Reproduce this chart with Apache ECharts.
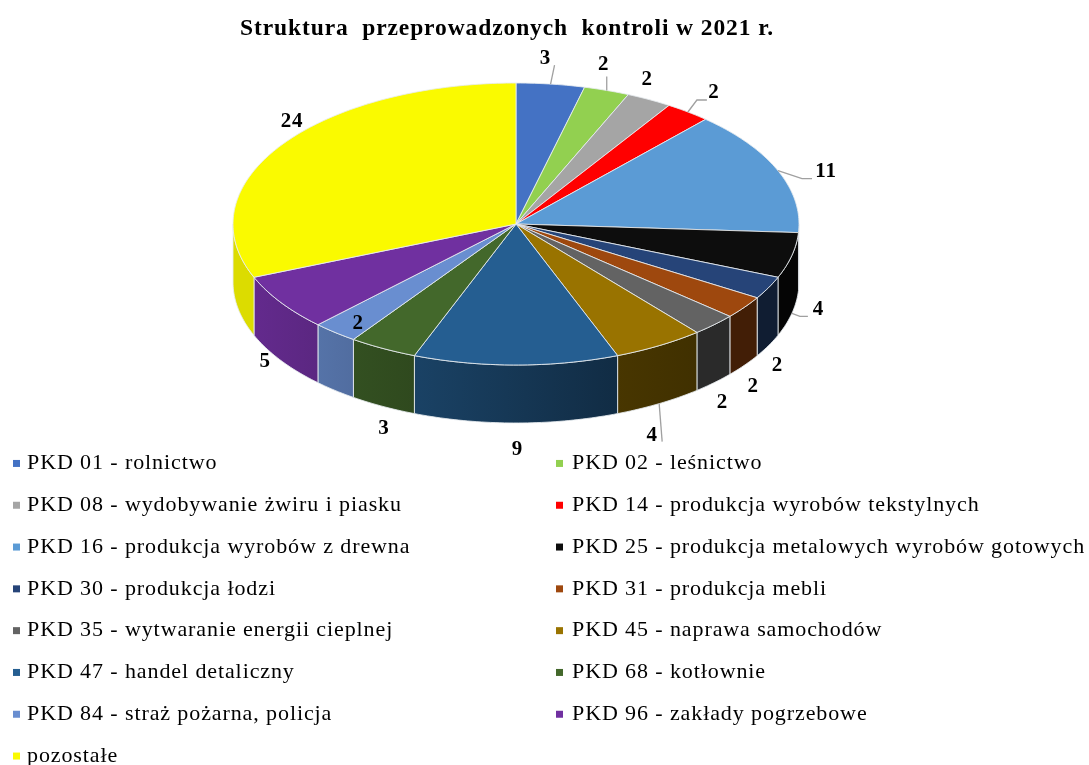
<!DOCTYPE html>
<html><head><meta charset="utf-8">
<style>html,body{margin:0;padding:0;background:#fff}#c{width:1089px;height:765px}</style>
<script src="https://cdn.jsdelivr.net/npm/echarts@6/dist/echarts.min.js"></script>
</head><body><div id="c"></div>
<script>
// The reference text is set with slightly open tracking
const nativeGetContext = HTMLCanvasElement.prototype.getContext;
HTMLCanvasElement.prototype.getContext = function(){
  const ctx = nativeGetContext.apply(this, arguments);
  if (ctx && 'letterSpacing' in ctx) ctx.letterSpacing = '0.9px';
  return ctx;
};
const titleText = 'Struktura  przeprowadzonych  kontroli w 2021 r.';
const categories = ['PKD 01 - rolnictwo','PKD 02 - leśnictwo','PKD 08 - wydobywanie żwiru i piasku','PKD 14 - produkcja wyrobów tekstylnych','PKD 16 - produkcja wyrobów z drewna','PKD 25 - produkcja metalowych wyrobów gotowych','PKD 30 - produkcja łodzi','PKD 31 - produkcja mebli','PKD 35 - wytwaranie energii cieplnej','PKD 45 - naprawa samochodów','PKD 47 - handel detaliczny','PKD 68 - kotłownie','PKD 84 - straż pożarna, policja','PKD 96 - zakłady pogrzebowe','pozostałe'];
const values = [3,2,2,2,11,4,2,2,2,4,9,3,2,5,24];
const colors = ['#4472C4','#92D050','#A5A5A5','#FF0000','#5B9BD5','#0D0D0D','#264478','#9E480E','#636363','#997300','#255E91','#43682B','#698ED0','#7030A0','#FAFA00'];

// Pie projection and label placement (relative to each slice's rim point)
const pie = {cx:516, cy:224, rx:283, ry:141, depth:58};
const labelPlacement = [
  {rim:'top',dx:-5,dy:-25,lead:[[0,0],[4,-19]]},
  {rim:'top',dx:-3,dy:-26,lead:[[0,0],[0,-14]]},
  {rim:'top',dx:-2,dy:-20},
  {rim:'top',dx:26,dy:-19,lead:[[0,0],[9,-12],[19,-12]]},
  {rim:'top',dx:48,dy:1,lead:[[0,0],[24,8],[34,8]]},
  {rim:'bottom',dx:26.5,dy:-4,lead:[[0,0],[8,3],[16,3]]},
  {rim:'bottom',dx:9,dy:20},
  {rim:'bottom',dx:9,dy:21},
  {rim:'bottom',dx:8.5,dy:20},
  {rim:'bottom',dx:-7,dy:32,lead:[[0,0],[3,38]]},
  {rim:'bottom',dx:1.5,dy:27},
  {rim:'bottom',dx:1,dy:22.5},
  {rim:'top',dx:23,dy:-9},
  {rim:'bottom',dx:-16,dy:1},
  {rim:'top',dx:11,dy:-24}
];
const total = values.reduce((a,b)=>a+b,0);
const startOf = i => values.slice(0,i).reduce((a,b)=>a+b,0);
const rim = (t, off) => [pie.cx + pie.rx*Math.sin(t), pie.cy - pie.ry*Math.cos(t) + (off||0)];
const arc = (a,b,off) => { const n=Math.max(2,Math.ceil((b-a)*60)), p=[]; for(let k=0;k<=n;k++) p.push(rim(a+(b-a)*k/n,off)); return p; };
function shade(hex,x){
  const s=Math.min(0.88,Math.max(0.42,0.88-(x-255)*0.46/405));
  const n=parseInt(hex.slice(1),16);
  return 'rgb('+[(n>>16)&255,(n>>8)&255,n&255].map(c=>Math.round(c*s)).join(',')+')';
}
const edge='rgba(232,236,240,0.85)';
function renderSlice(params,api){
  const i=params.seriesIndex, v=api.value(0);
  const a=startOf(i)/total*2*Math.PI, b=a+v/total*2*Math.PI, children=[];
  const fa=Math.max(a,Math.PI/2), fb=Math.min(b,Math.PI*1.5);
  if(fb>fa){
    const top=arc(fa,fb,0), bot=arc(fa,fb,pie.depth).reverse();
    const xa=rim(fa)[0], xb=rim(fb)[0];
    children.push({type:'polygon',z2:5,shape:{points:top.concat(bot)},style:{
      fill:{type:'linear',x:0,y:0,x2:1,y2:0,colorStops:[{offset:0,color:shade(colors[i],Math.min(xa,xb))},{offset:1,color:shade(colors[i],Math.max(xa,xb))}]},
      stroke:edge,lineWidth:1}});
  }
  children.push({type:'polygon',z2:10,shape:{points:[[pie.cx,pie.cy]].concat(arc(a,b,0))},style:{fill:colors[i],stroke:edge,lineWidth:1}});
  const m=(a+b)/2, lp=labelPlacement[i], base=rim(m,lp.rim==='bottom'?pie.depth:0);
  if(lp.lead) children.push({type:'polyline',z2:15,shape:{points:lp.lead.map(q=>[base[0]+q[0],base[1]+q[1]])},style:{fill:null,stroke:'#a0a0a0',lineWidth:1.3}});
  children.push({type:'text',z2:20,x:base[0]+lp.dx,y:base[1]+lp.dy,style:{text:String(v),fill:'#000',font:'bold 21px "Liberation Serif"',align:'center',verticalAlign:'middle'}});
  return {type:'group',children};
}
const legendBase={orient:'vertical',selectedMode:false,icon:'rect',itemWidth:7,itemHeight:7,itemGap:18.9,top:452,height:330,padding:0,
  textStyle:{fontFamily:'Liberation Serif',fontSize:22,color:'#000',lineHeight:21}};
const legendText = pad => Object.assign({},legendBase.textStyle,{padding:[0,0,0,pad]});
const chart=echarts.init(document.getElementById('c'),null,{renderer:'canvas'});
chart.setOption({
  animation:false,
  backgroundColor:'#fff',
  title:{text:titleText,left:240,top:16,padding:0,textStyle:{fontFamily:'Liberation Serif',fontWeight:'bold',fontSize:23.5,color:'#000'}},
  legend:[
    Object.assign({},legendBase,{left:13,textStyle:legendText(2),data:categories.filter((c,i)=>i%2===0)}),
    Object.assign({},legendBase,{left:556,textStyle:legendText(4),data:categories.filter((c,i)=>i%2===1)})
  ],
  series:categories.map((name,i)=>({type:'custom',name,coordinateSystem:'none',silent:true,itemStyle:{color:colors[i]},renderItem:renderSlice,data:[[values[i]]]}))
});
</script></body></html>
